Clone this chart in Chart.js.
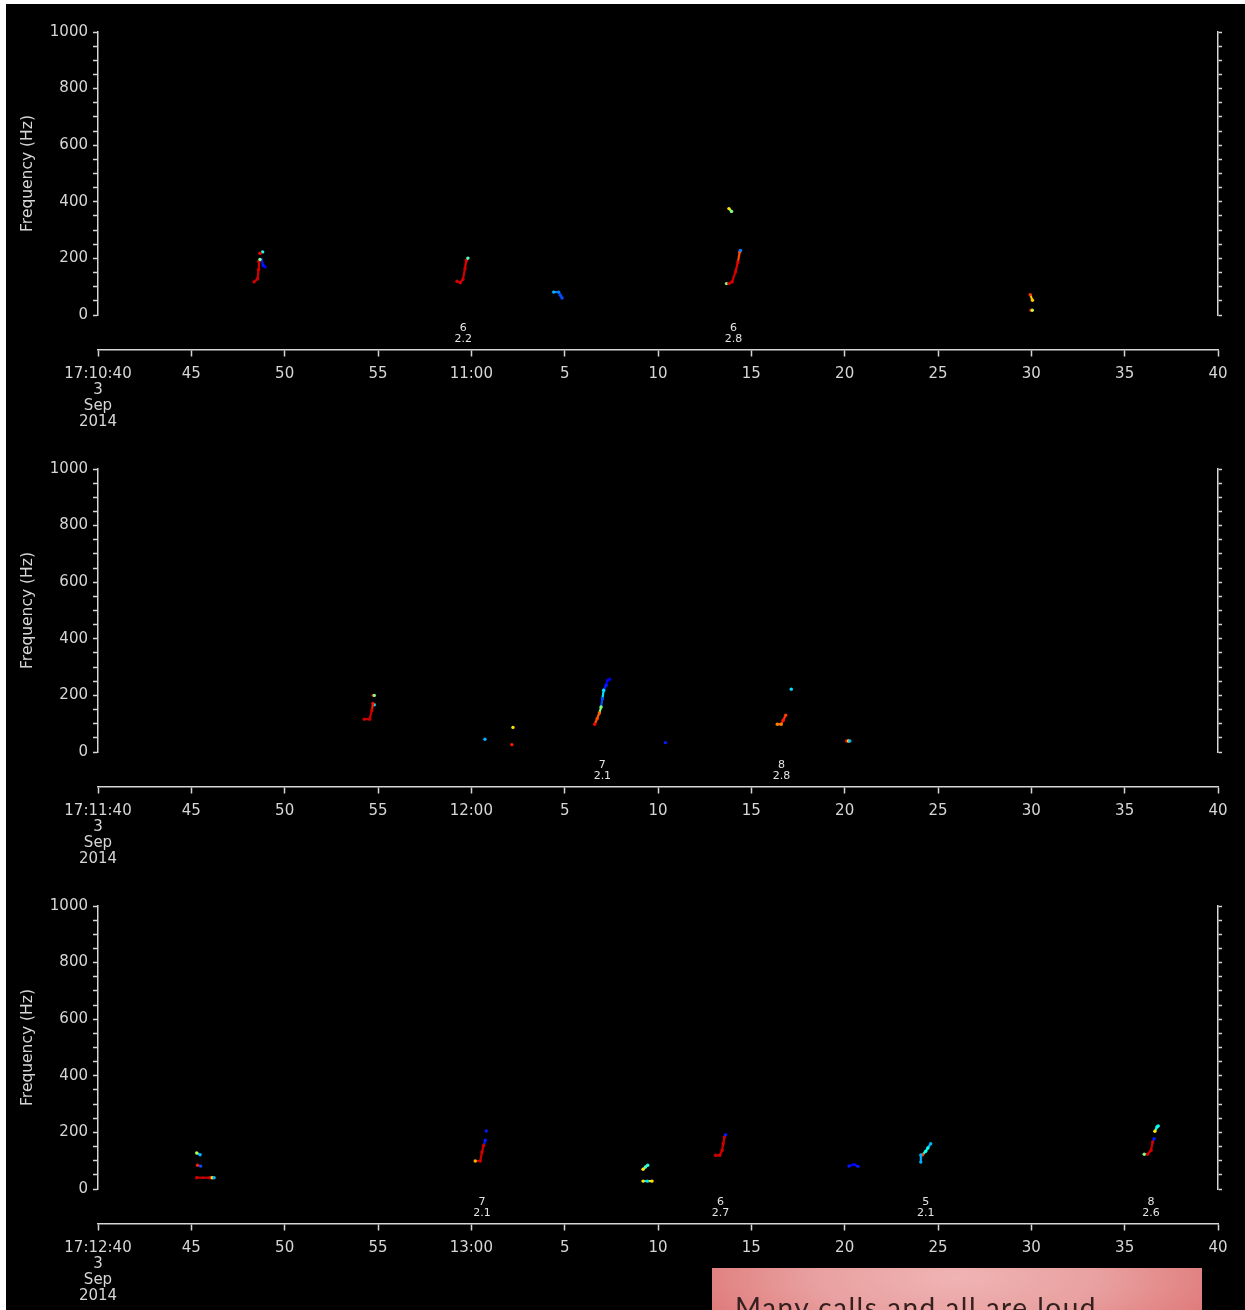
<!DOCTYPE html>
<html>
<head>
<meta charset="utf-8">
<script src="https://cdn.jsdelivr.net/npm/chart.js@4.4.1/dist/chart.umd.min.js"></script>
<style>
html, body { margin: 0; padding: 0; width: 1245px; height: 1310px; overflow: hidden; background: #fff; }
#bg { position: absolute; left: 6px; top: 4px; right: 0; bottom: 0; background: #000; }
canvas { position: absolute; left: 0; }
#note {
  position: absolute; left: 712px; top: 1268px; width: 490px; height: 60px;
  background: radial-gradient(ellipse 65% 160% at 50% 15%, #f0b4b4 0%, #e9a0a0 45%, #dc6c6c 100%);
  font-family: Lato, "Open Sans", sans-serif; font-size: 28px; line-height: 28px; letter-spacing: 1.5px;
  color: #352020; padding: 25px 0 0 23px; box-sizing: border-box; white-space: nowrap;
}
</style>
</head>
<body>
<div id="bg"></div>
<canvas id="p1" width="1245" height="437" style="top:0px"></canvas>
<canvas id="p2" width="1245" height="437" style="top:437px"></canvas>
<canvas id="p3" width="1245" height="437" style="top:874px"></canvas>
<div id="note">Many calls and all are loud</div>
<script>
// tick labels, seconds from the start of each one-minute panel
var dateLines = ['3', 'Sep', '2014'];
var ticks1 = ['17:10:40', '45', '50', '55', '11:00', '5', '10', '15', '20', '25', '30', '35', '40'];
var ticks2 = ['17:11:40', '45', '50', '55', '12:00', '5', '10', '15', '20', '25', '30', '35', '40'];
var ticks3 = ['17:12:40', '45', '50', '55', '13:00', '5', '10', '15', '20', '25', '30', '35', '40'];

// detected calls: t = seconds, f = Hz, c = level (0 blue .. 1 red)
var calls1 = [
  {t: [8.36, 8.55, 8.6, 8.62, 8.68], f: [117, 128, 160, 190, 196], c: [0.92, 0.92, 0.92, 0.92, 0.5]},
  {t: [8.75, 8.85, 8.95], f: [196, 175, 170], c: [0.15, 0.15, 0.12]},
  {t: [8.68], f: [218], c: [0.88]},
  {t: [8.82], f: [223], c: [0.4]},
  {t: [19.23, 19.41, 19.55, 19.66, 19.73, 19.82], f: [119, 114, 126, 164, 193, 201], c: [0.92, 0.92, 0.92, 0.92, 0.9, 0.45]},
  {t: [24.41, 24.68, 24.77, 24.86], f: [81, 81, 70, 60], c: [0.3, 0.25, 0.2, 0.2]},
  {t: [33.67, 33.8, 33.97, 34.15, 34.28, 34.38, 34.42], f: [111, 111, 117, 152, 187, 223, 228], c: [0.5, 0.92, 0.92, 0.92, 0.9, 0.8, 0.25]},
  {t: [33.8, 33.94], f: [376, 366], c: [0.65, 0.5]},
  {t: [49.94, 50.06], f: [72, 52], c: [0.82, 0.68]},
  {t: [49.97, 50.05], f: [17, 17], c: [0.9, 0.55]}
];
var calls2 = [
  {t: [14.26, 14.55, 14.67, 14.73], f: [116, 116, 147, 171], c: [0.92, 0.92, 0.92, 0.85]},
  {t: [14.8], f: [167], c: [0.35]},
  {t: [14.74, 14.8], f: [200, 200], c: [0.9, 0.5]},
  {t: [20.73], f: [45], c: [0.3]},
  {t: [22.23], f: [87], c: [0.65]},
  {t: [22.17], f: [26], c: [0.85]},
  {t: [26.61, 26.74, 26.86, 26.95, 27.02, 27.09, 27.22, 27.3, 27.41], f: [98, 118, 138, 159, 188, 218, 236, 253, 257], c: [0.88, 0.8, 0.78, 0.5, 0.2, 0.35, 0.15, 0.12, 0.1]},
  {t: [30.4], f: [33], c: [0.15]},
  {t: [37.14], f: [222], c: [0.35]},
  {t: [36.39, 36.6, 36.71, 36.84], f: [98, 98, 112, 130], c: [0.75, 0.75, 0.85, 0.82]},
  {t: [40.1, 40.2, 40.28], f: [39, 39, 39], c: [0.9, 0.65, 0.3]}
];
var calls3 = [
  {t: [5.29, 5.47], f: [127, 121], c: [0.55, 0.3]},
  {t: [5.33, 5.5], f: [84, 81], c: [0.85, 0.2]},
  {t: [5.29, 6.0, 6.12, 6.22], f: [40, 40, 40, 40], c: [0.92, 0.92, 0.65, 0.3]},
  {t: [20.21, 20.48, 20.57, 20.66, 20.75], f: [99, 99, 131, 154, 172], c: [0.7, 0.92, 0.92, 0.92, 0.15]},
  {t: [20.8], f: [205], c: [0.15]},
  {t: [29.2, 29.33, 29.45], f: [70, 78, 84], c: [0.65, 0.45, 0.4]},
  {t: [29.2, 29.44, 29.68], f: [28, 28, 28], c: [0.65, 0.35, 0.65]},
  {t: [33.08, 33.31, 33.44, 33.49, 33.56, 33.62], f: [119, 119, 137, 160, 184, 192], c: [0.92, 0.92, 0.92, 0.92, 0.92, 0.15]},
  {t: [40.23, 40.5, 40.71], f: [81, 87, 80], c: [0.15, 0.12, 0.15]},
  {t: [44.08, 44.08], f: [95, 120], c: [0.3, 0.3]},
  {t: [44.17, 44.34, 44.46, 44.61], f: [121, 133, 145, 160], c: [0.8, 0.4, 0.38, 0.3]},
  {t: [56.05, 56.23, 56.41, 56.5, 56.58], f: [123, 123, 137, 166, 178], c: [0.5, 0.92, 0.92, 0.92, 0.15]},
  {t: [56.62, 56.73, 56.8], f: [204, 219, 223], c: [0.65, 0.4, 0.38]}
];

// numbers printed under the calls
var labelT1 = [19.57, 34.05], labelTop1 = ['6', '6'], labelBot1 = ['2.2', '2.8'];
var labelT2 = [27.02, 36.62], labelTop2 = ['7', '8'], labelBot2 = ['2.1', '2.8'];
var labelT3 = [20.57, 33.35, 44.34, 56.41], labelTop3 = ['7', '6', '5', '8'], labelBot3 = ['2.1', '2.7', '2.1', '2.6'];

var axisColor = '#d6d6d6';
Chart.defaults.font.family = '"DejaVu Sans", sans-serif';
Chart.defaults.color = axisColor;

function jet(v) {
  function cl(x) { return Math.round(255 * Math.max(0, Math.min(1, x))); }
  return 'rgb(' + cl(1.5 - Math.abs(4 * v - 3)) + ',' + cl(1.5 - Math.abs(4 * v - 2)) + ',' + cl(1.5 - Math.abs(4 * v - 1)) + ')';
}

var callLabels = {
  id: 'callLabels',
  afterDatasetsDraw: function (chart, args, opts) {
    var ctx = chart.ctx, xs = chart.scales.x, b = chart.chartArea.bottom;
    ctx.save();
    ctx.fillStyle = '#e4e4e4';
    ctx.font = '11px "DejaVu Sans"';
    ctx.textAlign = 'center';
    ctx.textBaseline = 'middle';
    opts.t.forEach(function (t, i) {
      var px = xs.getPixelForValue(t);
      ctx.fillText(opts.top[i], px, b + 13);
      ctx.fillText(opts.bottom[i], px, b + 24);
    });
    ctx.restore();
  }
};

function makePanel(id, tickLabels, calls, lt, ltop, lbot) {
  var datasets = calls.map(function (c) {
    var cols = c.c.map(jet);
    return {
      data: c.t.map(function (t, i) { return {x: t, y: c.f[i]}; }),
      showLine: true,
      borderWidth: 2.2,
      borderColor: cols[0],
      segment: { borderColor: function (ctx) { return cols[ctx.p1DataIndex]; } },
      pointRadius: 1.7,
      pointBorderWidth: 0,
      pointBackgroundColor: cols
    };
  });
  return new Chart(document.getElementById(id), {
    type: 'scatter',
    data: { datasets: datasets },
    options: {
      responsive: false,
      animation: false,
      layout: { padding: { top: 32, bottom: 122, left: 0, right: 0 } },
      plugins: {
        legend: { display: false },
        tooltip: { enabled: false },
        callLabels: { t: lt, top: ltop, bottom: lbot }
      },
      scales: {
        x: {
          type: 'linear',
          position: { y: -124 },
          min: 0, max: 60,
          grid: { drawOnChartArea: false, tickLength: 6, color: axisColor, tickWidth: 1.5 },
          border: { color: axisColor, width: 1.5 },
          ticks: {
            stepSize: 5, autoSkip: false, maxRotation: 0, padding: 10,
            font: { size: 15, lineHeight: 16 / 15 },
            callback: function (v) {
              var i = Math.round(v / 5);
              return i === 0 ? [tickLabels[0]].concat(dateLines) : tickLabels[i];
            }
          }
        },
        y: {
          type: 'linear',
          position: 'left',
          min: 0, max: 1000,
          grid: { drawOnChartArea: false, tickLength: 5, color: axisColor, tickWidth: 1.5 },
          border: { color: axisColor, width: 1.5 },
          ticks: {
            stepSize: 50, autoSkip: false, padding: 5, font: { size: 15 },
            callback: function (v) { return v % 200 === 0 ? String(v) : ''; }
          },
          title: { display: true, text: 'Frequency (Hz)', color: axisColor, font: { size: 15.5 }, padding: { top: 19, bottom: 0 } },
          afterFit: function (s) { s.width = 98; }
        },
        yr: {
          type: 'linear',
          position: 'right',
          min: 0, max: 1000,
          grid: { drawOnChartArea: false, tickLength: 4, color: axisColor, tickWidth: 1.5 },
          border: { color: axisColor, width: 1.5 },
          ticks: { stepSize: 50, display: false },
          afterFit: function (s) { s.width = 27; }
        }
      }
    },
    plugins: [callLabels]
  });
}

makePanel('p1', ticks1, calls1, labelT1, labelTop1, labelBot1);
makePanel('p2', ticks2, calls2, labelT2, labelTop2, labelBot2);
makePanel('p3', ticks3, calls3, labelT3, labelTop3, labelBot3);
</script>
</body>
</html>
